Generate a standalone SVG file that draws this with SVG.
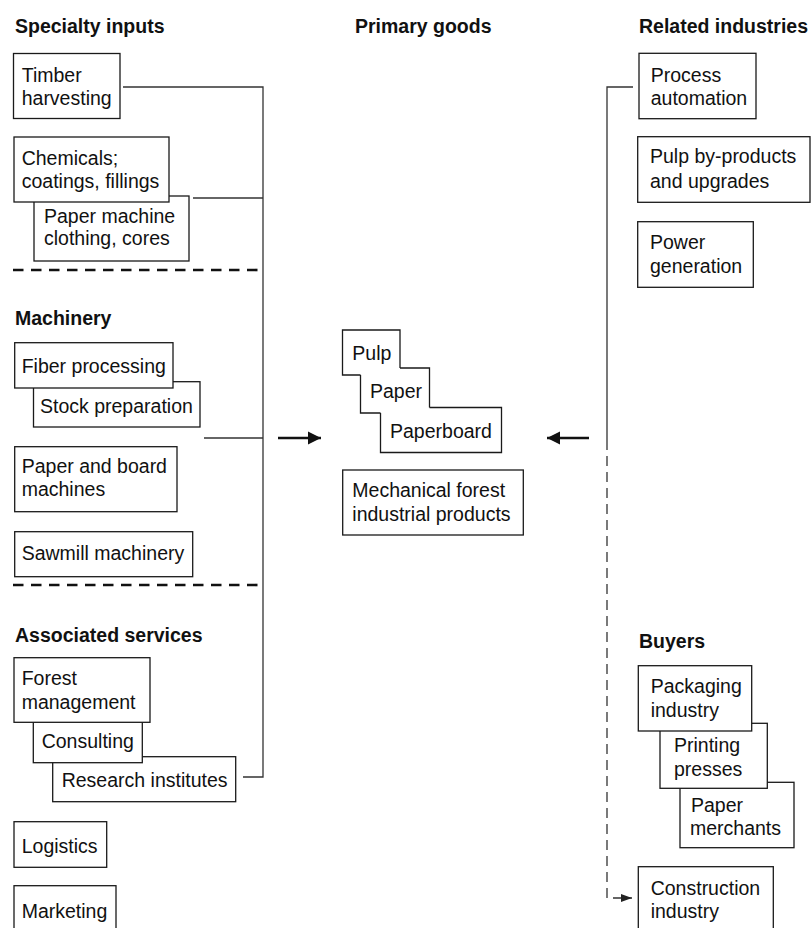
<svg xmlns="http://www.w3.org/2000/svg" width="812" height="928" viewBox="0 0 812 928">
<style>
text{font-family:"Liberation Sans",Arial,Helvetica,sans-serif;font-size:19.5px;fill:#111}
.t{font-weight:bold}
.b{fill:#fff;stroke:#1a1a1a;stroke-width:1.3}
.o{fill:none;stroke:#1a1a1a;stroke-width:1.3}
.c{fill:none;stroke:#333;stroke-width:1.3}
.sep{fill:none;stroke:#111;stroke-width:2.6;stroke-dasharray:10.5 7.5}
.dash{fill:none;stroke:#333;stroke-width:1.3;stroke-dasharray:10 6}
.arr{fill:none;stroke:#111;stroke-width:2.6}
</style>
<defs>
<marker id="ah" markerUnits="userSpaceOnUse" markerWidth="14" markerHeight="14" refX="13" refY="7" orient="auto">
<path d="M0,0.5 L13,7 L0,13.5 Z" fill="#111"/>
</marker>
<marker id="sh" markerUnits="userSpaceOnUse" markerWidth="12" markerHeight="10" refX="11" refY="5" orient="auto">
<path d="M0,1 L11,5 L0,9 Z" fill="#222"/>
</marker>
</defs>
<rect width="812" height="928" fill="#fff"/>

<g id="titles">
<text class="t" x="15" y="33">Specialty inputs</text>
<text class="t" x="355" y="33">Primary goods</text>
<text class="t" x="639" y="33">Related industries</text>
<text class="t" x="15" y="325">Machinery</text>
<text class="t" x="15" y="642">Associated services</text>
<text class="t" x="639" y="648">Buyers</text>
</g>

<g id="separators">
<path class="sep" d="M13,270 H258"/>
<path class="sep" d="M13,585 H258"/>
</g>

<g id="connectors">
<path class="c" d="M123,87 H263 V777 H243"/>
<path class="c" d="M193,198 H263"/>
<path class="c" d="M204,438 H263"/>
<path class="arr" d="M278,438 H321" marker-end="url(#ah)"/>
<path class="arr" d="M589,438 H547" marker-end="url(#ah)"/>
<path class="c" d="M633,87 H607 V440"/>
<path class="dash" d="M607,440 V898 H632" marker-end="url(#sh)"/>
</g>

<g id="timber">
<rect class="b" x="13.5" y="53.5" width="106.5" height="65"/>
<text x="21.7" y="82">Timber</text>
<text x="21.7" y="104.5">harvesting</text>
</g>
<g id="clothing">
<rect class="b" x="34" y="196" width="155" height="65"/>
<text x="44" y="222.5">Paper machine</text>
<text x="44" y="245">clothing, cores</text>
</g>
<g id="chemicals">
<rect class="b" x="14" y="137" width="155" height="65"/>
<text x="21.7" y="165">Chemicals;</text>
<text x="21.7" y="187.5">coatings, fillings</text>
</g>

<g id="stock">
<rect class="b" x="33.5" y="381.7" width="166.5" height="45.3"/>
<text x="40" y="412.7">Stock preparation</text>
</g>
<g id="fiber">
<rect class="b" x="14.7" y="342.7" width="158.3" height="45.3"/>
<text x="21.7" y="373">Fiber processing</text>
</g>
<g id="paperboard-machines">
<rect class="b" x="14.7" y="446.7" width="162.3" height="65"/>
<text x="21.7" y="472.7">Paper and board</text>
<text x="21.7" y="495.5">machines</text>
</g>
<g id="sawmill">
<rect class="b" x="14.7" y="531.7" width="178" height="45"/>
<text x="21.7" y="560">Sawmill machinery</text>
</g>

<g id="research">
<rect class="b" x="52.7" y="756.7" width="183" height="45"/>
<text x="61.7" y="786.7">Research institutes</text>
</g>
<g id="consulting">
<rect class="b" x="33.3" y="716" width="109" height="46.7"/>
<text x="41.7" y="748.3">Consulting</text>
</g>
<g id="forest">
<rect class="b" x="14" y="657.7" width="136" height="64.6"/>
<text x="21.7" y="685">Forest</text>
<text x="21.7" y="709">management</text>
</g>
<g id="logistics">
<rect class="b" x="14" y="821.7" width="92.7" height="45.6"/>
<text x="21.7" y="853">Logistics</text>
</g>
<g id="marketing">
<rect class="b" x="14" y="885.7" width="102" height="50"/>
<text x="21.7" y="917.7">Marketing</text>
</g>

<g id="pulp">
<path class="o" d="M360.5,375 H342.5 V330 H400 V368"/>
<text x="352.3" y="360">Pulp</text>
</g>
<g id="paper">
<path class="o" d="M400,368 H429.5 V407.5 M380.5,413 H360.5 V375"/>
<text x="370" y="398.3">Paper</text>
</g>
<g id="paperboard">
<path class="o" d="M429.5,407.5 H501.5 V452.5 H380.5 V413"/>
<text x="390" y="438.3">Paperboard</text>
</g>
<g id="mechanical">
<rect class="b" x="342.7" y="470" width="180.6" height="65"/>
<text x="352.3" y="496.7">Mechanical forest</text>
<text x="352.3" y="521">industrial products</text>
</g>

<g id="automation">
<rect class="b" x="639" y="53.3" width="117" height="65.4"/>
<text x="650.7" y="81.7">Process</text>
<text x="650.7" y="105">automation</text>
</g>
<g id="byproducts">
<rect class="b" x="637.7" y="136.7" width="172.3" height="65.6"/>
<text x="650" y="163.3">Pulp by-products</text>
<text x="650" y="188">and upgrades</text>
</g>
<g id="power">
<rect class="b" x="637.7" y="221.7" width="115.6" height="65.6"/>
<text x="650" y="249">Power</text>
<text x="650" y="272.7">generation</text>
</g>

<g id="merchants">
<rect class="b" x="680" y="782.3" width="114" height="65.4"/>
<text x="691" y="811.7">Paper</text>
<text x="690" y="835">merchants</text>
</g>
<g id="printing">
<rect class="b" x="660" y="723.3" width="107.3" height="65"/>
<text x="674" y="751.7">Printing</text>
<text x="674" y="776">presses</text>
</g>
<g id="packaging">
<rect class="b" x="638.3" y="665.7" width="113.4" height="65.3"/>
<text x="650.7" y="693.3">Packaging</text>
<text x="650.7" y="716.7">industry</text>
</g>
<g id="construction">
<rect class="b" x="638.3" y="866.7" width="135" height="70"/>
<text x="650.7" y="895">Construction</text>
<text x="650.7" y="918.3">industry</text>
</g>
</svg>
